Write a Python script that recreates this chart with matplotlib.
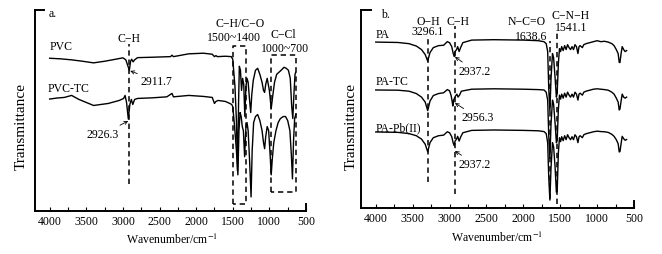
import numpy as np
import matplotlib
matplotlib.use("Agg")
import matplotlib.pyplot as plt
from matplotlib.ticker import MultipleLocator

plt.rcParams['font.family'] = ['Liberation Serif', 'DejaVu Serif']
plt.rcParams['mathtext.fontset'] = 'stix'
FS = 8.5
B = '\u2212'  # bond dash

# ---------------- panel a: PVC / PVC-TC ----------------
pvc_wn = [4000, 3850, 3700, 3550, 3400, 3250, 3100, 3000, 2960, 2935, 2912, 2895, 2880,
          2860, 2840, 2800, 2600, 2350, 2330, 2310, 2100, 1900, 1780, 1750, 1730, 1710,
          1600, 1520, 1500, 1470, 1450, 1435, 1420, 1410, 1395, 1380, 1365, 1350, 1335,
          1320, 1305, 1290, 1270, 1255, 1240, 1220, 1190, 1160, 1130, 1100, 1080, 1065,
          1050, 1030, 1000, 975, 955, 930, 900, 870, 840, 800, 770, 740, 715, 695, 680,
          665, 650, 640]
pvc_t = [0.760, 0.757, 0.752, 0.745, 0.737, 0.745, 0.755, 0.762, 0.752, 0.725, 0.700, 0.745,
         0.755, 0.742, 0.752, 0.763, 0.765, 0.768, 0.775, 0.768, 0.782, 0.785, 0.780, 0.768,
         0.773, 0.768, 0.770, 0.768, 0.755, 0.62, 0.45, 0.20, 0.55, 0.72, 0.70, 0.60, 0.66,
         0.63, 0.47, 0.62, 0.66, 0.64, 0.55, 0.49, 0.58, 0.65, 0.70, 0.71, 0.68, 0.64, 0.60,
         0.59, 0.63, 0.66, 0.60, 0.51, 0.57, 0.64, 0.68, 0.69, 0.70, 0.715, 0.71, 0.70, 0.66,
         0.52, 0.46, 0.58, 0.68, 0.69]

pvctc_wn = [4000, 3900, 3800, 3700, 3600, 3500, 3400, 3300, 3200, 3050, 2990, 2970, 2950,
            2926, 2905, 2885, 2865, 2840, 2800, 2600, 2400, 2330, 2310, 2100, 1900, 1780,
            1750, 1730, 1700, 1600, 1540, 1515, 1500, 1475, 1450, 1430, 1415, 1400, 1385,
            1370, 1355, 1338, 1320, 1305, 1290, 1270, 1250, 1235, 1215, 1190, 1160, 1130,
            1100, 1080, 1065, 1050, 1030, 1010, 990, 975, 960, 940, 910, 880, 850, 810, 780,
            750, 720, 700, 685, 670, 655, 640]
pvctc_t = [0.557, 0.562, 0.565, 0.575, 0.555, 0.540, 0.525, 0.530, 0.535, 0.550, 0.560,
           0.575, 0.540, 0.458, 0.530, 0.555, 0.530, 0.555, 0.560, 0.563, 0.568, 0.585,
           0.568, 0.575, 0.570, 0.565, 0.535, 0.545, 0.550, 0.545, 0.535, 0.530, 0.520,
           0.42, 0.30, 0.18, 0.40, 0.49, 0.47, 0.42, 0.40, 0.27, 0.42, 0.44, 0.40, 0.25,
           0.07, 0.30, 0.44, 0.47, 0.48, 0.45, 0.40, 0.34, 0.31, 0.37, 0.42, 0.40, 0.28,
           0.18, 0.26, 0.34, 0.40, 0.44, 0.46, 0.47, 0.47, 0.45, 0.40, 0.28, 0.16, 0.35,
           0.46, 0.48]

# ---------------- panel b: PA / PA-TC / PA-Pb(II) ----------------
pa_wn = [4000, 3700, 3550, 3450, 3380, 3330, 3296, 3265, 3220, 3150, 3080, 3030, 3000, 2970,
         2950, 2937, 2925, 2905, 2890, 2870, 2850, 2820, 2700, 2400, 2000, 1800, 1720, 1690,
         1670, 1655, 1640, 1625, 1605, 1590, 1570, 1552, 1541, 1525, 1510, 1495, 1480, 1460,
         1440, 1420, 1400, 1380, 1360, 1340, 1320, 1300, 1280, 1260, 1245, 1230, 1200, 1180,
         1150, 1100, 1050, 1000, 950, 900, 850, 800, 770, 740, 715, 700, 690, 675, 660, 640,
         620, 600]
pa_t = [0.838, 0.836, 0.830, 0.818, 0.800, 0.775, 0.742, 0.785, 0.810, 0.820, 0.822, 0.840,
        0.835, 0.815, 0.780, 0.765, 0.790, 0.800, 0.815, 0.790, 0.810, 0.835, 0.848, 0.850,
        0.848, 0.845, 0.840, 0.830, 0.790, 0.60, 0.49, 0.65, 0.78, 0.76, 0.66, 0.56, 0.58,
        0.73, 0.805, 0.790, 0.815, 0.795, 0.820, 0.800, 0.825, 0.810, 0.800, 0.815, 0.800,
        0.825, 0.815, 0.780, 0.815, 0.820, 0.810, 0.825, 0.830, 0.835, 0.840, 0.845, 0.840,
        0.842, 0.838, 0.830, 0.820, 0.800, 0.780, 0.735, 0.735, 0.780, 0.815, 0.800, 0.790,
        0.795]

patc_wn = [4000, 3700, 3550, 3450, 3380, 3330, 3296, 3265, 3220, 3150, 3080, 3030, 3000,
           2980, 2965, 2956, 2945, 2920, 2900, 2885, 2865, 2840, 2700, 2400, 2000, 1800, 1720,
           1690, 1670, 1655, 1640, 1625, 1605, 1590, 1570, 1552, 1541, 1525, 1510, 1495, 1480,
           1460, 1440, 1420, 1400, 1380, 1360, 1340, 1320, 1300, 1280, 1260, 1245, 1230, 1200,
           1180, 1150, 1100, 1050, 1000, 950, 900, 850, 800, 770, 740, 715, 700, 690, 675,
           660, 640, 620, 600]
patc_t = [0.596, 0.595, 0.590, 0.578, 0.560, 0.535, 0.492, 0.540, 0.568, 0.578, 0.582, 0.598,
          0.592, 0.570, 0.540, 0.515, 0.545, 0.565, 0.575, 0.560, 0.570, 0.590, 0.600, 0.602,
          0.600, 0.598, 0.596, 0.585, 0.545, 0.36, 0.25, 0.42, 0.545, 0.525, 0.43, 0.33, 0.34,
          0.50, 0.570, 0.550, 0.575, 0.555, 0.580, 0.560, 0.585, 0.570, 0.560, 0.575, 0.560,
          0.585, 0.575, 0.545, 0.575, 0.580, 0.570, 0.585, 0.590, 0.595, 0.600, 0.602, 0.600,
          0.598, 0.595, 0.585, 0.575, 0.555, 0.535, 0.495, 0.500, 0.540, 0.575, 0.560, 0.555,
          0.560]

papb_wn = [4000, 3700, 3550, 3450, 3380, 3330, 3296, 3265, 3220, 3150, 3080, 3030, 3000,
           2970, 2950, 2937, 2925, 2905, 2890, 2870, 2850, 2820, 2700, 2400, 2000, 1800, 1720,
           1690, 1670, 1655, 1640, 1625, 1605, 1590, 1570, 1552, 1541, 1525, 1510, 1495, 1480,
           1460, 1440, 1420, 1400, 1380, 1360, 1340, 1320, 1300, 1280, 1260, 1245, 1230, 1200,
           1180, 1150, 1100, 1050, 1000, 950, 900, 850, 800, 770, 740, 715, 700, 690, 675,
           660, 640, 620, 600]
papb_t = [0.384, 0.382, 0.376, 0.365, 0.348, 0.322, 0.284, 0.330, 0.355, 0.365, 0.368, 0.385,
          0.380, 0.360, 0.328, 0.315, 0.338, 0.348, 0.362, 0.338, 0.358, 0.380, 0.392, 0.394,
          0.392, 0.390, 0.386, 0.376, 0.330, 0.15, 0.04, 0.20, 0.330, 0.310, 0.21, 0.08, 0.085,
          0.28, 0.355, 0.335, 0.360, 0.340, 0.365, 0.345, 0.370, 0.355, 0.345, 0.360, 0.345,
          0.370, 0.360, 0.330, 0.360, 0.365, 0.355, 0.370, 0.375, 0.380, 0.385, 0.388, 0.386,
          0.385, 0.382, 0.372, 0.362, 0.345, 0.325, 0.283, 0.285, 0.325, 0.362, 0.350, 0.342,
          0.346]

# marker lines (wavenumber, bottom, top)
a_lines = [(2914, 0.134, 0.831)]
b_lines = [(3296, 0.131, 0.860), (2927, 0.071, 0.920), (1637, 0.045, 0.845), (1537, 0.02, 0.890)]
# dashed boxes (left wn, right wn, bottom, top)
a_boxes = [(1492, 1320, 0.035, 0.822), (982, 640, 0.093, 0.776)]

fig = plt.figure(figsize=(6.62, 2.55), dpi=100)
ax_a = fig.add_axes([35 / 662, 1 - 212 / 255, (306 - 35) / 662, (212 - 11) / 255])
ax_b = fig.add_axes([361 / 662, 1 - 209 / 255, (634 - 361) / 662, (209 - 11) / 255])

dash = (0, (3.5, 2.5))


def style_axis(ax):
    ax.set_xlim(4200, 500)
    ax.set_ylim(0, 1)
    for s in ['top', 'right']:
        ax.spines[s].set_visible(False)
    for s in ['left', 'bottom']:
        ax.spines[s].set_linewidth(1.4)
    ax.xaxis.set_major_locator(MultipleLocator(500))
    ax.xaxis.set_minor_locator(MultipleLocator(250))
    ax.set_xticks(np.arange(4000, 499, -500))
    ax.tick_params(axis='x', which='both', direction='in', length=3, width=0.8,
                   labelsize=FS, pad=3)
    ax.set_yticks([])
    # bracket at top of left spine and end tick at 500
    ax.plot([0, 0.035], [1, 1], transform=ax.transAxes, color='k', lw=1.4,
            clip_on=False, solid_capstyle='projecting')
    ax.plot([500, 500], [0, 0.035], color='k', lw=1.4, clip_on=False)


for ax in (ax_a, ax_b):
    style_axis(ax)

# panel a
ax_a.plot(pvc_wn, pvc_t, color='k', lw=1.0)
ax_a.plot(pvctc_wn, pvctc_t, color='k', lw=1.0)
for wn, lo, hi in a_lines:
    ax_a.plot([wn, wn], [lo, hi], color='k', lw=1.1, ls=dash)
for l, r, lo, hi in a_boxes:
    ax_a.plot([l, l, r, r, l], [lo, hi, hi, lo, lo], color='k', lw=1.1, ls=dash)

ax_a.text(4010, 0.985, 'a.', fontsize=FS, ha='left', va='center')
ax_a.text(4000, 0.821, 'PVC', fontsize=FS, ha='left', va='center')
ax_a.text(4033, 0.612, 'PVC-TC', fontsize=FS, ha='left', va='center')
ax_a.text(2914, 0.861, f'C{B}H', fontsize=FS, ha='center', va='center')
ax_a.text(1393, 0.935, f'C{B}H/C{B}O', fontsize=FS, ha='center', va='center')
ax_a.text(1489, 0.868, '1500~1400', fontsize=FS, ha='center', va='center')
ax_a.text(805, 0.881, f'C{B}Cl', fontsize=FS, ha='center', va='center')
ax_a.text(790, 0.811, '1000~700', fontsize=FS, ha='center', va='center')
arrow = dict(arrowstyle='->', color='k', lw=0.6, shrinkA=0, shrinkB=0, mutation_scale=6)
ax_a.annotate('2911.7', xy=(2900, 0.697), xytext=(2548, 0.648), fontsize=FS,
              ha='center', va='center', arrowprops=arrow)
ax_a.annotate('2926.3', xy=(2927, 0.448), xytext=(3270, 0.383), fontsize=FS,
              ha='center', va='center', arrowprops=arrow)

# panel b
ax_b.plot(pa_wn, pa_t, color='k', lw=1.0)
ax_b.plot(patc_wn, patc_t, color='k', lw=1.0)
ax_b.plot(papb_wn, papb_t, color='k', lw=1.0)
for wn, lo, hi in b_lines:
    ax_b.plot([wn, wn], [lo, hi], color='k', lw=1.1, ls=dash)

ax_b.text(3928, 0.98, 'b.', fontsize=FS, ha='left', va='center')
ax_b.text(3996, 0.879, 'PA', fontsize=FS, ha='left', va='center')
ax_b.text(3996, 0.643, 'PA-TC', fontsize=FS, ha='left', va='center')
ax_b.text(4005, 0.408, 'PA-Pb(II)', fontsize=FS, ha='left', va='center')
ax_b.text(3292, 0.919, f'O{B}H\n3296.1', fontsize=FS, ha='center', va='center',
          linespacing=0.85)
ax_b.text(2886, 0.942, f'C{B}H', fontsize=FS, ha='center', va='center')
ax_b.text(1952, 0.942, f'N{B}C=O', fontsize=FS, ha='center', va='center')
ax_b.text(1898, 0.870, '1638.6', fontsize=FS, ha='center', va='center')
ax_b.text(1358, 0.944, f'C{B}N{B}H\n1541.1', fontsize=FS, ha='center', va='center',
          linespacing=0.95)
ax_b.annotate('2937.2', xy=(2927, 0.763), xytext=(2656, 0.693), fontsize=FS,
              ha='center', va='center', arrowprops=arrow)
ax_b.annotate('2956.3', xy=(2927, 0.53), xytext=(2620, 0.458), fontsize=FS,
              ha='center', va='center', arrowprops=arrow)
ax_b.annotate('2937.2', xy=(2927, 0.288), xytext=(2656, 0.222), fontsize=FS,
              ha='center', va='center', arrowprops=arrow)

# axis labels
fig.text(21.7 / 662, 1 - 127 / 255, 'Transmittance', rotation=90, fontsize=11,
         ha='center', va='center')
fig.text(351 / 662, 1 - 127 / 255, 'Transmittance', rotation=90, fontsize=11,
         ha='center', va='center')
fig.text(171.7 / 662, 1 - 240 / 255, 'Wavenumber/cm$^{-1}$', fontsize=FS,
         ha='center', va='center')
fig.text(496.7 / 662, 1 - 238 / 255, 'Wavenumber/cm$^{-1}$', fontsize=FS,
         ha='center', va='center')

fig.savefig('out.png', dpi=100)
